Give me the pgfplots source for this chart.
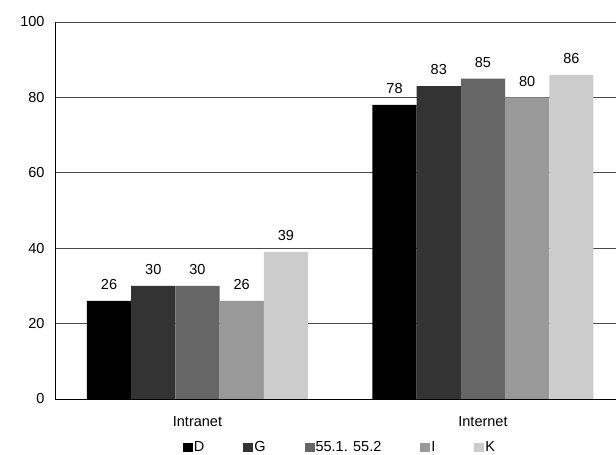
\documentclass[border=0pt]{standalone}
\usepackage{pgfplots}
\pgfplotsset{compat=1.18}
\usepackage{fontspec}
\setmainfont{Liberation Sans}

\definecolor{cD}{HTML}{000000}
\definecolor{cG}{HTML}{333333}
\definecolor{cF}{HTML}{666666}
\definecolor{cI}{HTML}{999999}
\definecolor{cK}{HTML}{CCCCCC}
\definecolor{gridc}{HTML}{4A4A4A}

\newcommand{\chartfont}{\fontsize{14.5}{16}\selectfont}

\begin{document}
\begin{tikzpicture}
\begin{axis}[
  scale only axis,
  width=561pt, height=377pt,
  ybar=0pt, bar width=44.2pt,
  xmin=-0.499, xmax=1.466,
  ymin=0, ymax=100,
  ytick={0,20,40,60,80,100},
  xtick={0,1},
  xticklabels={Intranet,Internet},
  axis x line*=bottom, axis y line*=left,
  axis line style={black, line width=0.9pt, -},
  ymajorgrids,
  major grid style={gridc, line width=0.8pt},
  major tick length=0pt,
  tick label style={font=\chartfont},
  /pgf/number format/assume math mode=true,
  yticklabel style={xshift=-7pt},
  xticklabel style={yshift=-14pt},
  nodes near coords,
  every node near coord/.append style={font=\chartfont, anchor=south, inner sep=0pt, yshift=11pt, black},
  legend columns=5,
  legend image code/.code={\fill[#1] (0pt,-4.5pt) rectangle (10pt,4.5pt);},
  legend style={draw=none, fill=none, at={(0.507,-0.128)}, anchor=center,
    font=\chartfont,
    nodes={inner xsep=1pt, inner ysep=1pt},
    /tikz/every even column/.append style={column sep=38pt},
    inner sep=0pt},
  legend cell align=left,
]
\addplot[fill=cD, draw=none] coordinates {(0,26) (1,78)};
\addplot[fill=cG, draw=none] coordinates {(0,30) (1,83)};
\addplot[fill=cF, draw=none] coordinates {(0,30) (1,85)};
\addplot[fill=cI, draw=none] coordinates {(0,26) (1,80)};
\addplot[fill=cK, draw=none] coordinates {(0,39) (1,86)};
\legend{D,G,{55.1. 55.2},I,K}
\end{axis}
\pgfresetboundingbox
\path[use as bounding box] (current axis.south west) ++(-55pt,-56pt) rectangle ++(616pt,455pt);
\end{tikzpicture}
\end{document}
